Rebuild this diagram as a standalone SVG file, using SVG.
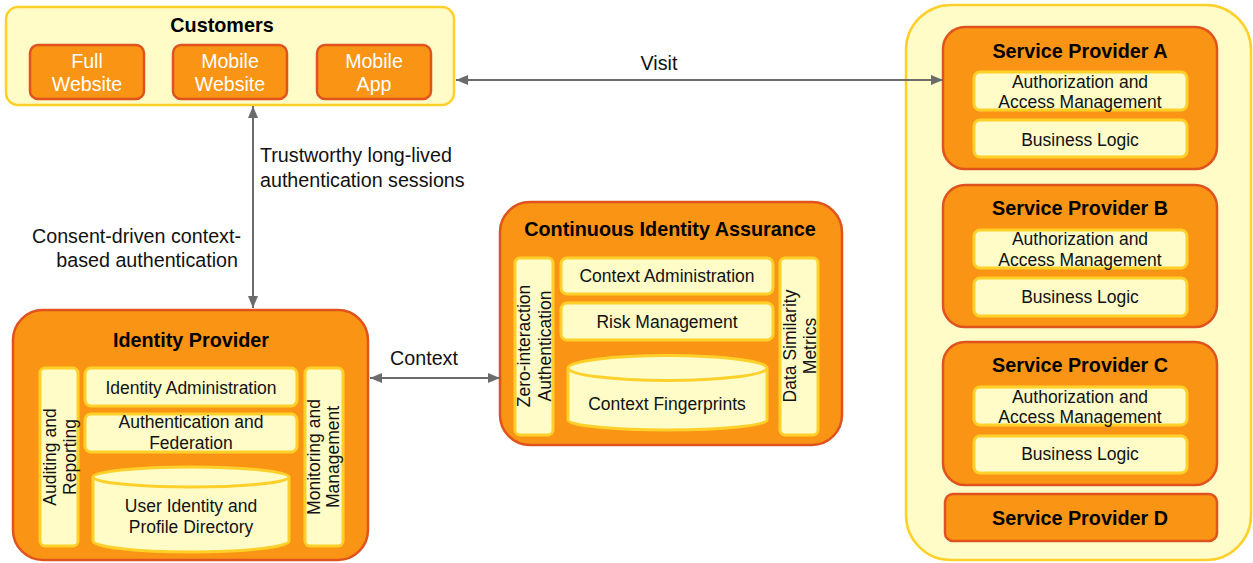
<svg xmlns="http://www.w3.org/2000/svg" width="1253" height="563" viewBox="0 0 1253 563">
<defs>
<marker id="ah" viewBox="0 0 12 10" refX="12" refY="5" markerWidth="12" markerHeight="10" markerUnits="userSpaceOnUse" orient="auto-start-reverse">
<path d="M0,0 L12,5 L0,10 Z" fill="#6b6b6b"/>
</marker>
<style>
text{font-family:"Liberation Sans",Arial,sans-serif;}
.ycont{fill:#FFFCC8;stroke:#FFD02A;stroke-width:2.5;}
.ocont{fill:#FA9414;stroke:#E0531E;stroke-width:2.5;}
.obox{fill:#FA9414;stroke:#E0531E;stroke-width:2.5;}
.ybox{fill:#FFFCC8;stroke:#FFD02A;stroke-width:3;}
.title{font-size:19.8px;font-weight:bold;fill:#000;text-anchor:middle;}
.inner{font-size:17.5px;fill:#111;text-anchor:middle;}
.wt{font-size:19.6px;fill:#fff;text-anchor:middle;}
.lbl{font-size:19.7px;fill:#111;}
.conn{stroke:#6b6b6b;stroke-width:2;fill:none;marker-start:url(#ah);marker-end:url(#ah);}
</style>
</defs>

<g id="customers">
<rect class="ycont" x="6" y="7" width="448" height="98" rx="12"/>
<text class="title" x="222" y="32">Customers</text>
<g id="full-website">
<rect class="obox" x="30" y="45" width="114" height="54" rx="8"/>
<text class="wt" x="87" y="68">Full</text>
<text class="wt" x="87" y="91">Website</text>
</g>
<g id="mobile-website">
<rect class="obox" x="173" y="45" width="114" height="54" rx="8"/>
<text class="wt" x="230" y="68">Mobile</text>
<text class="wt" x="230" y="91">Website</text>
</g>
<g id="mobile-app">
<rect class="obox" x="317" y="45" width="114" height="54" rx="8"/>
<text class="wt" x="374" y="68">Mobile</text>
<text class="wt" x="374" y="91">App</text>
</g>
</g>

<g id="identity-provider">
<rect class="ocont" x="13" y="310" width="355" height="250" rx="30"/>
<text class="title" x="191" y="347">Identity Provider</text>
<rect class="ybox" x="40" y="368" width="38" height="178" rx="5"/>
<g transform="translate(59,457) rotate(-90)">
<text class="inner" x="0" y="-3">Auditing and</text>
<text class="inner" x="0" y="17">Reporting</text>
</g>
<rect class="ybox" x="85" y="368" width="212" height="38" rx="6"/>
<text class="inner" x="191" y="394">Identity Administration</text>
<rect class="ybox" x="85" y="414" width="212" height="38" rx="6"/>
<text class="inner" x="191" y="428">Authentication and</text>
<text class="inner" x="191" y="449">Federation</text>
<path class="ybox" d="M93,477 A98,10 0 0 1 289,477 L289,541 A98,11 0 0 1 93,541 Z"/>
<path d="M93,477 A98,10 0 0 0 289,477" fill="none" stroke="#FFD02A" stroke-width="3"/>
<text class="inner" x="191" y="512">User Identity and</text>
<text class="inner" x="191" y="533">Profile Directory</text>
<rect class="ybox" x="305" y="368" width="38" height="178" rx="5"/>
<g transform="translate(324,457) rotate(-90)">
<text class="inner" x="0" y="-4">Monitoring and</text>
<text class="inner" x="0" y="15">Management</text>
</g>
</g>

<g id="continuous-identity-assurance">
<rect class="ocont" x="500" y="202" width="342" height="243" rx="30"/>
<text class="title" x="670" y="236">Continuous Identity Assurance</text>
<rect class="ybox" x="515" y="258" width="38" height="177" rx="5"/>
<g transform="translate(534,346) rotate(-90)">
<text class="inner" x="0" y="-4">Zero-interaction</text>
<text class="inner" x="0" y="17">Authentication</text>
</g>
<rect class="ybox" x="561" y="258" width="212" height="36" rx="6"/>
<text class="inner" x="667" y="282">Context Administration</text>
<rect class="ybox" x="561" y="303" width="212" height="37" rx="6"/>
<text class="inner" x="667" y="328">Risk Management</text>
<path class="ybox" d="M568,368 A99.5,12.5 0 0 1 767,368 L767,420 A99.5,10 0 0 1 568,420 Z"/>
<path d="M568,368 A99.5,12.5 0 0 0 767,368" fill="none" stroke="#FFD02A" stroke-width="3"/>
<text class="inner" x="667" y="410">Context Fingerprints</text>
<rect class="ybox" x="780" y="258" width="38" height="177" rx="5"/>
<g transform="translate(799,346) rotate(-90)">
<text class="inner" x="0" y="-3">Data Similarity</text>
<text class="inner" x="0" y="17">Metrics</text>
</g>
</g>

<g id="service-providers">
<rect class="ycont" x="906" y="5" width="345" height="555" rx="45"/>
<g id="service-provider-a">
<rect class="obox" x="943" y="27" width="274" height="142" rx="22"/>
<text class="title" x="1080" y="58">Service Provider A</text>
<rect class="ybox" x="974" y="72" width="213" height="38" rx="6"/>
<text class="inner" x="1080" y="88">Authorization and</text>
<text class="inner" x="1080" y="108">Access Management</text>
<rect class="ybox" x="974" y="120" width="213" height="37" rx="6"/>
<text class="inner" x="1080" y="146">Business Logic</text>
</g>
<g id="service-provider-b">
<rect class="obox" x="943" y="185" width="274" height="142" rx="22"/>
<text class="title" x="1080" y="215">Service Provider B</text>
<rect class="ybox" x="974" y="230" width="213" height="38" rx="6"/>
<text class="inner" x="1080" y="245">Authorization and</text>
<text class="inner" x="1080" y="266">Access Management</text>
<rect class="ybox" x="974" y="278" width="213" height="38" rx="6"/>
<text class="inner" x="1080" y="303">Business Logic</text>
</g>
<g id="service-provider-c">
<rect class="obox" x="943" y="342" width="274" height="143" rx="22"/>
<text class="title" x="1080" y="372">Service Provider C</text>
<rect class="ybox" x="974" y="387" width="213" height="38" rx="6"/>
<text class="inner" x="1080" y="403">Authorization and</text>
<text class="inner" x="1080" y="423">Access Management</text>
<rect class="ybox" x="974" y="436" width="213" height="37" rx="6"/>
<text class="inner" x="1080" y="460">Business Logic</text>
</g>
<g id="service-provider-d">
<rect class="obox" x="945" y="494" width="272" height="47" rx="8"/>
<text class="title" x="1080" y="525">Service Provider D</text>
</g>
</g>

<g id="connectors">
<line class="conn" x1="456" y1="80" x2="943" y2="80"/>
<text class="lbl" x="659" y="70" text-anchor="middle">Visit</text>
<line class="conn" x1="253" y1="106" x2="253" y2="308"/>
<text class="lbl" x="260" y="162">Trustworthy long-lived</text>
<text class="lbl" x="260" y="187">authentication sessions</text>
<text class="lbl" x="241" y="243" text-anchor="end">Consent-driven context-</text>
<text class="lbl" x="238" y="267" text-anchor="end">based authentication</text>
<line class="conn" x1="370" y1="378" x2="500" y2="378"/>
<text class="lbl" x="424" y="365" text-anchor="middle">Context</text>
</g>
</svg>
